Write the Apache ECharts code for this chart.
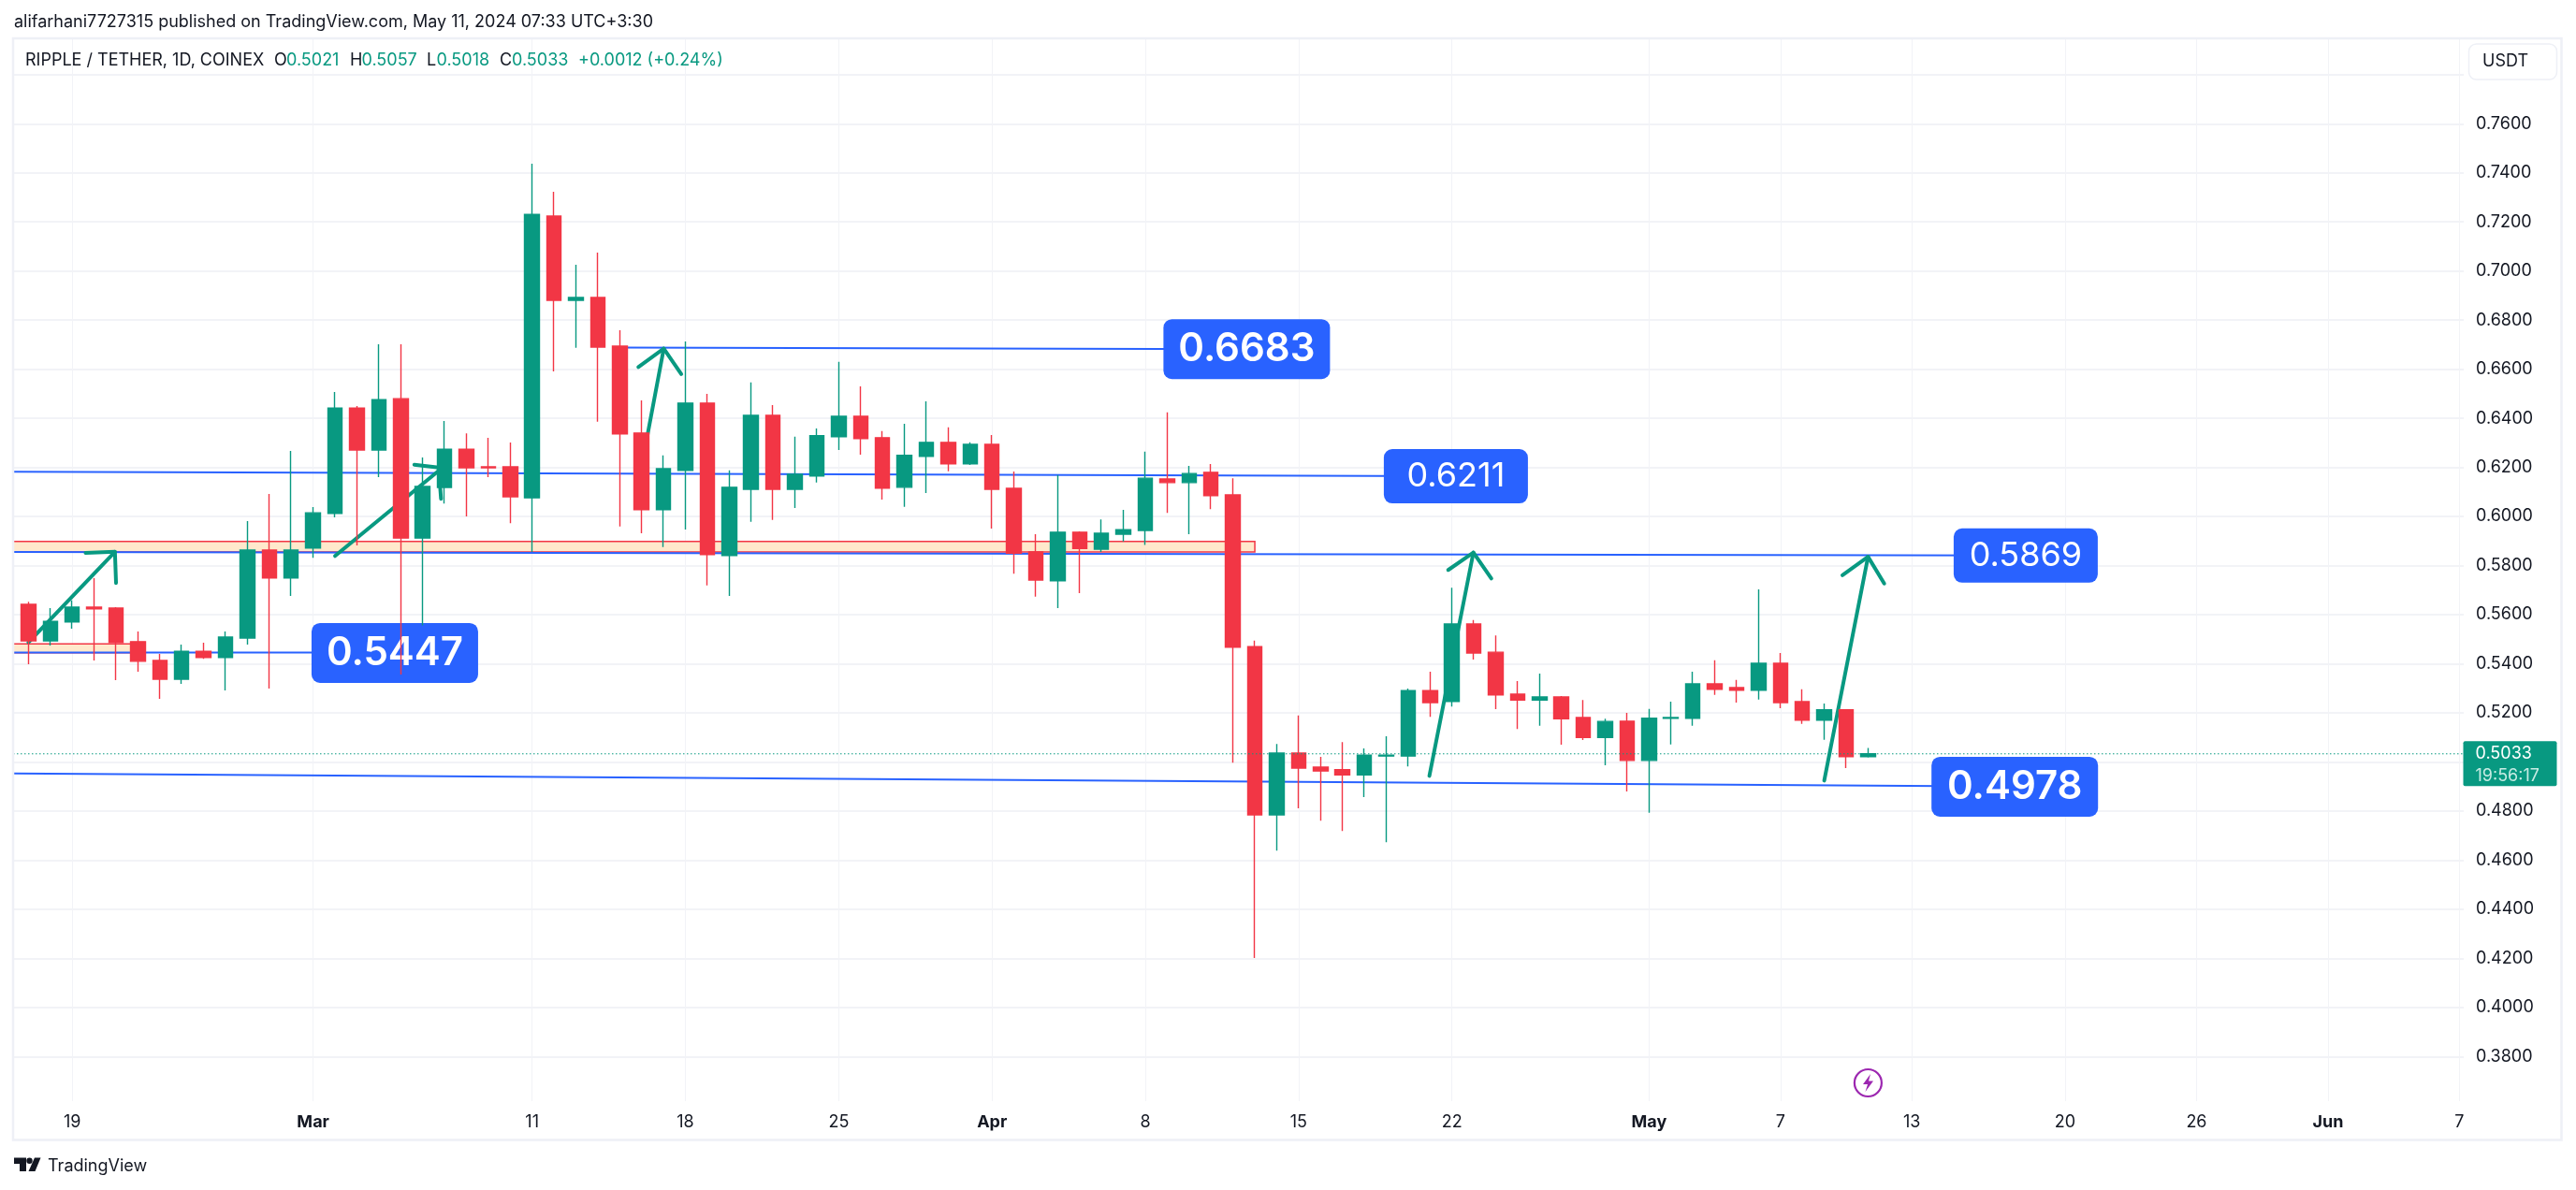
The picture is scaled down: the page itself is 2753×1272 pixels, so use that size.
<!DOCTYPE html>
<html>
<head>
<meta charset="utf-8">
<style>html,body{margin:0;padding:0;background:#fff}#c{width:2753px;height:1272px}</style>
<script src="https://cdn.jsdelivr.net/npm/echarts@6/dist/echarts.min.js"></script>
</head>
<body>
<div id="c"></div>
<script>
// Candle values, day 0 = 17 Feb 2024
const opens = [.5642,.5493,.5570,.5631,.5627,.5490,.5413,.5337,.5451,.5425,
.5505,.5863,.5749,.5871,.6012,.6442,.6271,.6480,.5912,.6118,
.6274,.6202,.6202,.6076,.7224,.6881,.6892,.6694,.6340,.6028,
.6188,.6462,.5841,.6111,.6412,.6111,.6165,.6325,.6408,.6321,
.6119,.6245,.6302,.6214,.6294,.6115,.5856,.5738,.5936,.5867,
.5928,.5943,.6153,.6138,.6180,.6088,.5470,.4784,.5036,.4979,
.4968,.4947,.5024,.5024,.5291,.5246,.5562,.5447,.5276,.5252,
.5265,.5181,.5100,.5166,.5006,.5178,.5178,.5318,.5303,.5292,
.5402,.5246,.5170,.5212,.5021];
const closes = [.5493,.5573,.5631,.5624,.5486,.5410,.5337,.5451,.5425,.5509,
.5863,.5749,.5863,.6015,.6442,.6271,.6476,.5912,.6122,.6274,
.6198,.6198,.6080,.7231,.6881,.6892,.6690,.6336,.6028,.6195,
.6462,.5845,.6119,.6412,.6111,.6172,.6329,.6408,.6317,.6115,
.6249,.6302,.6214,.6294,.6111,.5850,.5741,.5936,.5870,.5932,
.5946,.6156,.6138,.6175,.6085,.5467,.4784,.5036,.4975,.4963,
.4947,.5028,.5028,.5291,.5242,.5562,.5444,.5273,.5252,.5265,
.5176,.5100,.5165,.5006,.5178,.5181,.5318,.5296,.5292,.5402,
.5242,.5170,.5212,.5021,.5033];
const lows = [.5398,.5474,.5543,.5413,.5333,.5368,.5257,.5318,.5420,.5291,
.5478,.5299,.5676,.5832,.5996,.5882,.6160,.5356,.5556,.6053,
.6000,.6160,.5973,.5855,.6591,.6687,.6386,.5959,.5932,.5875,
.5947,.5719,.5676,.5978,.5986,.6035,.6138,.6271,.6252,.6069,
.6039,.6096,.6184,.6210,.5951,.5767,.5673,.5627,.5688,.5855,
.5898,.5884,.6015,.5928,.6030,.4997,.4201,.4639,.4811,.4761,
.4719,.4857,.4673,.4982,.5184,.5226,.5417,.5215,.5134,.5147,
.5070,.5089,.4986,.4880,.4793,.5071,.5147,.5273,.5242,.5254,
.5219,.5155,.5090,.4975,.5018];
const highs = [.5652,.5627,.5658,.5749,.5631,.5531,.5440,.5478,.5486,.5531,
.5981,.6092,.6267,.6038,.6507,.6450,.6702,.6702,.6240,.6389,
.6339,.6320,.6301,.7437,.7323,.7026,.7075,.6759,.6473,.6249,
.6713,.6500,.6188,.6546,.6454,.6325,.6359,.6630,.6530,.6348,
.6378,.6469,.6363,.6302,.6332,.6183,.5928,.6169,.5939,.5988,
.6027,.6264,.6424,.6206,.6214,.6156,.5494,.5073,.5189,.5021,
.5081,.5055,.5105,.5299,.5368,.5710,.5578,.5515,.5329,.5360,
.5268,.5252,.5176,.5200,.5216,.5246,.5368,.5414,.5334,.5703,
.5444,.5296,.5238,.5212,.5057];

// Axes
const xTickDays   = [2,13,23,30,37,44,51,58,65,74,80,86,93,99,105,111];
const xTickLabels = ['19','Mar','11','18','25','Apr','8','15','22','May','7','13','20','26','Jun','7'];
const monthLabels = ['Mar','Apr','May','Jun'];
const priceGrid   = [.38,.40,.42,.44,.46,.48,.50,.52,.54,.56,.58,.60,.62,.64,.66,.68,.70,.72,.74,.76,.78];
const priceLabels = [.38,.40,.42,.44,.46,.48,.50,.52,.54,.56,.58,.60,.62,.64,.66,.68,.70,.72,.74,.76];
const xMin = -0.7, xMax = 111.2, yMin = .3618, yMax = .7948;

// Drawn levels
const levelLines = [
  [[xMin,.5446],[16,.5446]],
  [[xMin,.6182],[65,.6164]],
  [[xMin,.5855],[91,.5841]],
  [[xMin,.4953],[90.7,.4900]],
  [[26.9,.6688],[55.6,.6682]]
];
const levelBoxes = [
  {text:'0.5447', day:16.73, price:.5444, bold:true},
  {text:'0.6683', day:55.63, price:.6682, bold:true},
  {text:'0.6211', day:65.18, price:.6164, bold:false},
  {text:'0.5869', day:91.2,  price:.5841, bold:false},
  {text:'0.4978', day:90.7,  price:.4899, bold:true}
];
const zones = [
  [[xMin,.5898],[56,.5855]],
  [[xMin,.5481],[5,.5445]]
];
// Hand-drawn arrows
const arrowShafts = [
  [[0,.5487],[3.95,.5856]],
  [[14,.5839],[18.73,.6186]],
  [[27.96,.6186],[29.01,.6684]],
  [[63.97,.4943],[65.98,.5853]],
  [[82,.4924],[84,.5836]]
];
const arrowHeads = [
  [[2.61,.5852],[3.95,.5856],[4,.5729]],
  [[17.62,.6211],[18.73,.6199],[18.84,.6072]],
  [[27.85,.6609],[29.01,.6684],[29.81,.6580]],
  [[64.83,.5782],[65.98,.5853],[66.8,.5747]],
  [[82.83,.5761],[84,.5836],[84.74,.5727]]
];
const lastPrice = .5033, countdown = '19:56:17';

const GREEN='#089981', RED='#F23645', BLUE='#2962FF', INK='#131722', FONT='Inter';

const candleData = opens.map((o,i)=>[i,o,closes[i],lows[i],highs[i]]);

const series = [];
series.push({type:'candlestick',z:5,barWidth:16,clip:true,animation:false,silent:true,progressive:0,
  data:candleData,
  itemStyle:{color:GREEN,color0:RED,borderColor:GREEN,borderColor0:RED,borderWidth:1.4}});
zones.forEach(z=>series.push({type:'line',z:2,silent:true,animation:false,data:[],
  markArea:{silent:true,animation:false,itemStyle:{color:'#FFE9CC',borderColor:RED,borderWidth:1.5,opacity:1},
    data:[[{coord:z[0]},{coord:z[1]}]]}}));
levelLines.forEach(l=>series.push({type:'line',z:3,silent:true,animation:false,showSymbol:false,data:l,
  lineStyle:{color:BLUE,width:2}}));
levelBoxes.forEach(b=>series.push({type:'scatter',z:4,silent:true,animation:false,symbolSize:1,
  itemStyle:{color:'rgba(0,0,0,0)',opacity:1},data:[[b.day,b.price]],
  label:{show:true,opacity:1,position:'inside',formatter:b.text,color:'#fff',fontFamily:FONT,
    fontSize:b.bold?42:36,fontWeight:b.bold?600:400,
    width:b.bold?178:154,height:b.bold?64:58,lineHeight:b.bold?64:58,align:'center',verticalAlign:'middle',
    backgroundColor:BLUE,borderRadius:9}}));
arrowShafts.concat(arrowHeads).forEach(a=>series.push({type:'line',z:4,silent:true,animation:false,showSymbol:false,data:a,
  lineStyle:{color:GREEN,width:4,cap:'round',join:'round'}}));
series.push({type:'line',z:6,silent:true,animation:false,showSymbol:false,data:[[xMin,lastPrice],[xMax,lastPrice]],
  lineStyle:{color:GREEN,width:1,type:[1.5,2.5]}});
series.push({type:'scatter',z:7,silent:true,animation:false,symbolSize:1,clip:false,itemStyle:{color:'rgba(0,0,0,0)',opacity:1},
  data:[[xMax,lastPrice]],
  label:{show:true,opacity:1,position:[0,-13],align:'left',verticalAlign:'top',
    formatter:'{p|'+lastPrice.toFixed(4)+'}\n{t|'+countdown+'}',
    width:100,height:48,padding:0,backgroundColor:GREEN,borderRadius:2,
    rich:{p:{color:'#fff',fontFamily:FONT,fontSize:18,lineHeight:26,padding:[0,0,0,13]},
          t:{color:'#c6ebe3',fontFamily:FONT,fontSize:18,lineHeight:22,padding:[0,0,0,13]}}}});

function txt(x,y,s,fill,extra){
  return {type:'text',x:x,y:y,z:20,silent:true,
    style:Object.assign({text:s,fill:fill,font:'18px '+FONT,align:'left',verticalAlign:'middle'},extra||{})};
}
const graphic = [
  {type:'rect',z:10,silent:true,shape:{x:14,y:41,width:2723.5,height:1177.5},style:{fill:'none',stroke:'#EEF0F6',lineWidth:2.5}},
  txt(15,24,'alifarhani7727315 published on TradingView.com, May 11, 2024 07:33 UTC+3:30',INK),
  txt(27,65,'RIPPLE / TETHER, 1D, COINEX',INK),
  txt(293,65,'O',INK), txt(306,65,opens[84].toFixed(4),GREEN),
  txt(374,65,'H',INK), txt(386.5,65,highs[84].toFixed(4),GREEN),
  txt(456,65,'L',INK), txt(466.5,65,lows[84].toFixed(4),GREEN),
  txt(534,65,'C',INK), txt(547,65,closes[84].toFixed(4),GREEN),
  txt(618,65,'+0.0012 (+0.24%)',GREEN),
  {type:'rect',z:20,silent:true,shape:{x:2638.5,y:47,width:94,height:38,r:8},style:{fill:'#fff',stroke:'#EEF0F6',lineWidth:1.5}},
  txt(2653,66,'USDT',INK),
  {type:'circle',z:20,silent:true,shape:{cx:1996.4,cy:1157.5,r:14.5},style:{fill:'#fff',stroke:'#9C27B0',lineWidth:2.2}},
  {type:'polygon',z:20,silent:true,shape:{points:[[1999,1148],[1991,1159],[1996,1159],[1993.5,1167],[2002,1155.5],[1997,1155.5]]},style:{fill:'#9C27B0'}},
  {type:'polygon',z:20,silent:true,shape:{points:[[15,1237.5],[28,1237.5],[28,1252],[21,1252],[21,1244],[15,1244]]},style:{fill:INK}},
  {type:'circle',z:20,silent:true,shape:{cx:31.5,cy:1240.7,r:3.2},style:{fill:INK}},
  {type:'polygon',z:20,silent:true,shape:{points:[[37,1237.5],[43.5,1237.5],[37.5,1252],[30.5,1252]]},style:{fill:INK}},
  txt(51,1247,'TradingView',INK)
];

const chart = echarts.init(document.getElementById('c'),null,{renderer:'canvas'});
chart.setOption({
  animation:false,
  backgroundColor:'#fff',
  grid:{left:14,top:41,width:2619,height:1136,containLabel:false},
  xAxis:{type:'value',min:xMin,max:xMax,
    axisLine:{show:false},
    axisTick:{show:false,customValues:xTickDays},
    axisLabel:{show:true,customValues:xTickDays,margin:14,hideOverlap:false,showMinLabel:true,showMaxLabel:true,
      color:INK,fontFamily:FONT,fontSize:18,
      formatter:v=>{const s=xTickLabels[xTickDays.indexOf(v)];return monthLabels.includes(s)?'{b|'+s+'}':s;},
      rich:{b:{fontFamily:FONT,fontSize:18,fontWeight:700,color:INK}}},
    splitLine:{show:true,lineStyle:{color:'#F2F3F7',width:1}}},
  yAxis:{type:'value',position:'right',min:yMin,max:yMax,scale:true,
    axisLine:{show:false},
    axisTick:{show:false,customValues:priceGrid},
    axisLabel:{show:true,customValues:priceLabels,margin:13,color:INK,fontFamily:FONT,fontSize:18,
      formatter:v=>v.toFixed(4)},
    splitLine:{show:true,lineStyle:{color:'#F2F3F7',width:2}}},
  graphic:graphic,
  series:series
});
</script>
</body>
</html>
